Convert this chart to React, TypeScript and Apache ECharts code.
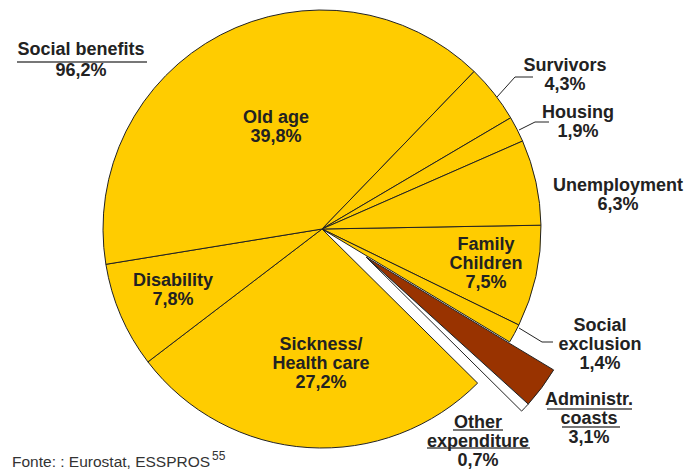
import React, { useEffect, useRef } from 'react';
import * as echarts from 'echarts';

// ---- data (clockwise from 3 o'clock) ----
const categories = [
  'Family\nChildren',
  'Social\nexclusion',
  'Administr.\ncoasts',
  'Other\nexpenditure',
  'Sickness/\nHealth care',
  'Disability',
  'Old age',
  'Survivors',
  'Housing',
  'Unemployment',
];
const shares = [7.5, 1.4, 3.1, 0.7, 27.2, 7.8, 39.8, 4.3, 1.9, 6.3];
const detached = [false, false, true, true, false, false, false, false, false, false];
const groupLabel = 'Social benefits';
const sourceText = 'Fonte: : Eurostat, ESSPROS';
const sourceNote = '55';

// ---- styling / layout (not data) ----
const YELLOW = '#FFCC00';
const sliceColors = [YELLOW, YELLOW, '#993300', '#FFFFFF', YELLOW, YELLOW, YELLOW, YELLOW, YELLOW, YELLOW];
const labelPos: number[][] = [
  [486, 263],
  [600, 344],
  [589, 418],
  [478, 441],
  [321, 363],
  [173, 289],
  [276, 126],
  [565, 74],
  [578, 121],
  [618, 194],
];
const labelLines: (number[][] | null)[] = [
  null,
  [[519, 328], [542, 342], [553, 342]],
  null,
  null,
  null,
  null,
  null,
  [[497, 97], [515, 77], [533, 77]],
  [[519, 130], [535, 122], [549, 122]],
  null,
];
const FONT = 'Liberation Sans, Arial, Helvetica, sans-serif';
const TXT = '#222222';

const fmt = (v: number) => v.toFixed(1).replace('.', ',') + '%';

function buildSeries(showDetached: boolean, center: number[]) {
  return {
    type: 'pie',
    center,
    radius: 219,
    startAngle: 1,
    clockwise: true,
    avoidLabelOverlap: false,
    silent: true,
    emphasis: { disabled: true },
    label: {
      show: true,
      position: 'outside',
      width: 220,
      overflow: 'none',
      color: TXT,
      fontFamily: FONT,
      fontWeight: 'bold',
      fontSize: 18,
      lineHeight: 19,
      align: 'center',
      formatter: (p: any) => `${p.name}\n${fmt(p.value)}`,
    },
    labelLine: { show: false, lineStyle: { color: TXT, width: 1 } },
    labelLayout: (params: any) => {
      const i = params.dataIndex;
      const out: any = { x: labelPos[i][0], y: labelPos[i][1], align: 'center', verticalAlign: 'middle' };
      if (labelLines[i]) out.labelLinePoints = labelLines[i];
      return out;
    },
    data: categories.map((name, i) => {
      const visible = detached[i] === showDetached;
      return {
        name,
        value: shares[i],
        itemStyle: visible
          ? { color: sliceColors[i], borderColor: TXT, borderWidth: 1 }
          : { color: 'rgba(0,0,0,0)', borderWidth: 0 },
        label: { show: visible },
        labelLine: { show: visible && !!labelLines[i] },
      };
    }),
  };
}

export default function App() {
  const ref = useRef<HTMLDivElement>(null);
  useEffect(() => {
    if (!ref.current) return;
    const chart = echarts.init(ref.current, null, { renderer: 'svg' });
    const groupTotal = shares.reduce((s, v, i) => (detached[i] ? s : s + v), 0);
    const line = (x1: number, y1: number, x2: number, y2: number) => ({
      type: 'line',
      shape: { x1, y1, x2, y2 },
      style: { stroke: '#777777', lineWidth: 2 },
      silent: true,
    });
    chart.setOption({
      animation: false,
      backgroundColor: '#ffffff',
      series: [buildSeries(false, [322, 229]), buildSeries(true, [366, 257])],
      graphic: [
        {
          type: 'text',
          x: 81,
          y: 59,
          style: {
            text: `${groupLabel}\n${fmt(groupTotal)}`,
            fill: TXT,
            fontFamily: FONT,
            fontWeight: 'bold',
            fontSize: 18,
            lineHeight: 21,
            align: 'center',
            verticalAlign: 'middle',
          },
        },
        line(17, 62, 147, 62),
        line(547, 409, 632, 409),
        line(562, 427, 620, 427),
        line(453, 430, 503, 430),
        line(427, 448, 530, 448),
        {
          type: 'text',
          x: 12,
          y: 461,
          style: {
            text: sourceText,
            fill: '#333333',
            fontFamily: FONT,
            fontSize: 15.5,
            align: 'left',
            verticalAlign: 'middle',
          },
        },
        {
          type: 'text',
          x: 212,
          y: 456,
          style: {
            text: sourceNote,
            fill: '#333333',
            fontFamily: FONT,
            fontSize: 12,
            align: 'left',
            verticalAlign: 'middle',
          },
        },
      ],
    });
    return () => chart.dispose();
  }, []);
  return (
    <div
      ref={ref}
      style={{ position: 'fixed', left: 0, top: 0, width: 687, height: 469, background: '#fff' }}
    />
  );
}
